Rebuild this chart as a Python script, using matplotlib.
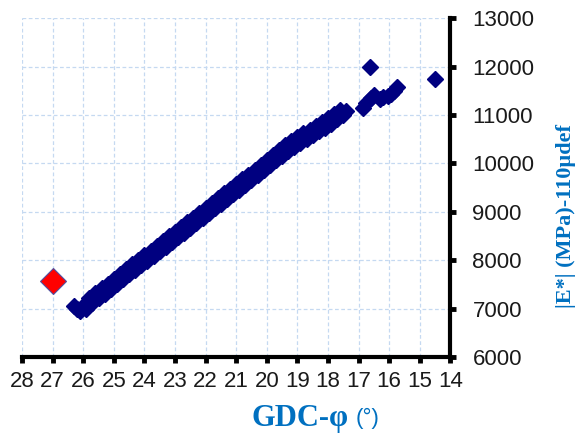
import matplotlib
matplotlib.use("Agg")
import matplotlib.pyplot as plt

# main band of measurements (GDC phase angle vs |E*|)
band_phi = [26.3, 26.2, 26.1, 26.0,
            25.9, 25.8, 25.7, 25.6, 25.5, 25.4, 25.3, 25.2, 25.1, 25.0,
            24.9, 24.8, 24.7, 24.6, 24.5, 24.4, 24.3, 24.2, 24.1, 24.0,
            23.9, 23.8, 23.7, 23.6, 23.5, 23.4, 23.3, 23.2, 23.1, 23.0,
            22.9, 22.8, 22.7, 22.6, 22.5, 22.4, 22.3, 22.2, 22.1, 22.0,
            21.9, 21.8, 21.7, 21.6, 21.5, 21.4, 21.3, 21.2, 21.1, 21.0,
            20.9, 20.8, 20.7, 20.6, 20.5, 20.4, 20.3, 20.2, 20.1, 20.0,
            19.9, 19.8, 19.7, 19.6, 19.5, 19.4, 19.3, 19.2, 19.1, 19.0,
            18.9, 18.8, 18.7, 18.6, 18.5, 18.4, 18.3, 18.2, 18.1, 18.0,
            17.9, 17.8, 17.7, 17.6, 17.5, 17.4]
band_E = [7060, 6990, 6940, 7060,
          7000, 7210, 7110, 7320, 7210, 7420, 7310, 7510, 7410, 7620,
          7510, 7720, 7610, 7820, 7710, 7920, 7800, 8010, 7900, 8100,
          7980, 8190, 8080, 8290, 8180, 8390, 8280, 8490, 8380, 8580,
          8470, 8680, 8570, 8780, 8670, 8880, 8770, 8980, 8870, 9080,
          8970, 9180, 9070, 9280, 9170, 9380, 9260, 9470, 9360, 9570,
          9460, 9670, 9560, 9770, 9660, 9870, 9760, 9970, 9860, 10070,
          9960, 10170, 10060, 10270, 10160, 10370, 10250, 10460, 10340, 10540,
          10420, 10620, 10500, 10700, 10580, 10780, 10660, 10860, 10740, 10940,
          10820, 11030, 10920, 11100, 10990, 11090]

# scattered points at the low phase angle end
tail_phi = [16.85, 16.75, 16.6, 16.5, 16.3, 16.2, 16.05, 15.95, 15.85, 15.75, 16.63, 14.5]
tail_E = [11150, 11250, 11350, 11420, 11330, 11370, 11390, 11430, 11500, 11570, 12000, 11740]

# highlighted point
red_phi = [27.0]
red_E = [7560]

navy = '#000080'
label_blue = '#0070C0'

fig = plt.figure(figsize=(5.81, 4.44), dpi=100)
ax = fig.add_axes([0.038, 0.196, 0.737, 0.763])

ax.plot(band_phi, band_E, 'D', ms=8.5, color=navy, mec=navy, ls='none', zorder=3)
ax.plot(tail_phi, tail_E, 'D', ms=7.8, color=navy, mec=navy, ls='none', zorder=3)
ax.plot(red_phi, red_E, 'D', ms=13.5, color='#FF0000', mec='#5050A0', mew=0.8,
        ls='none', zorder=4)

ax.set_xlim(28, 14)
ax.set_ylim(6000, 13000)
ax.set_xticks(range(14, 29))
ax.set_yticks(range(6000, 13001, 1000))

ax.yaxis.tick_right()
for s in ('left', 'top'):
    ax.spines[s].set_visible(False)
for s in ('bottom', 'right'):
    ax.spines[s].set_linewidth(3)

ax.grid(True, color='#C5D9F1', ls=(0, (3, 2)), lw=0.9)
ax.set_axisbelow(True)

ax.tick_params(axis='x', direction='out', length=4, width=3.5, pad=6,
               labelsize=16)
ax.tick_params(axis='y', direction='out', length=4, width=3.5, pad=12,
               labelsize=16)
for lab in ax.get_xticklabels() + ax.get_yticklabels():
    lab.set_fontfamily('Liberation Sans')
    lab.set_color('#1A1A1A')

fig.text(349 / 581, 1 - 418 / 444, 'GDC-φ', ha='right', va='center',
         fontsize=22, fontweight='bold', family='Liberation Serif',
         color=label_blue)
fig.text(356 / 581, 1 - 418 / 444, '(°)', ha='left', va='center',
         fontsize=16, family='Liberation Sans', color=label_blue)
fig.text(566 / 581, 1 - 216 / 444, '|E*| (MPa)-110µdef', rotation=90,
         ha='center', va='center', fontsize=16, fontweight='bold',
         family='Liberation Serif', color=label_blue)

fig.savefig('out.png', dpi=100)
